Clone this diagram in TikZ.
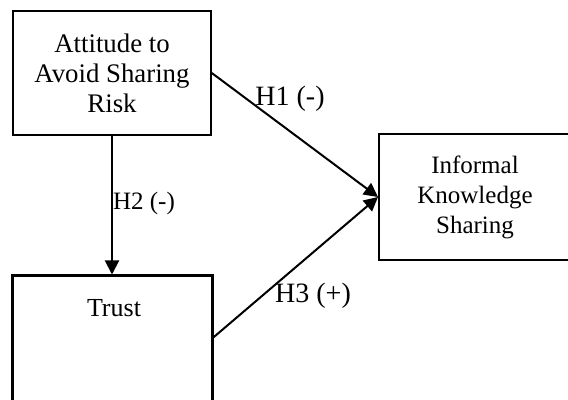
\documentclass[tikz,border=0pt]{standalone}
\usepackage{fontspec}
\setmainfont{Liberation Serif}
\usetikzlibrary{arrows.meta}
\tikzset{
  hyp box/.style={draw,line width=.8pt,inner sep=0pt,align=center},
  hyp arrow/.style={line width=1pt,-{Triangle[length=7pt,width=7pt]}},
  hyp label/.style={inner sep=0pt,font=\fontsize{14}{16}\selectfont}
}

\begin{document}
\begin{tikzpicture}[x=.5pt,y=-.5pt,font=\fontsize{13.4}{15}\selectfont]
  \useasboundingbox (0,0) rectangle (568,400);
  \clip (0,0) rectangle (568,400);
  \node[hyp box,minimum width=99pt,minimum height=62pt] (attitude) at (112,73)
    {Attitude to\\Avoid Sharing\\Risk};
  \node[hyp box,line width=1.5pt,minimum width=100pt,minimum height=72pt] (trust) at (112,348) {};
  \node[hyp label,font=\fontsize{13}{15}\selectfont] (trusttext) at (114,308) {Trust};
  \node[hyp box,line width=1pt,minimum width=96pt,minimum height=63pt,
    font=\fontsize{12.5}{15}\selectfont] (sharing) at (475,197)
    {Informal\\Knowledge\\Sharing};
  \draw[hyp arrow] (attitude.east) -- (sharing.west);
  \draw[hyp arrow] (attitude.south) -- (trust.north);
  \draw[hyp arrow] (trust.6) -- (sharing.west);
  \node[hyp label] (h1) at (290,99) {H1 (-)};
  \node[hyp label,font=\fontsize{12.5}{15}\selectfont] (h2) at (144,203) {H2 (-)};
  \node[hyp label] (h3) at (313,296) {H3 (+)};
\end{tikzpicture}
\end{document}
